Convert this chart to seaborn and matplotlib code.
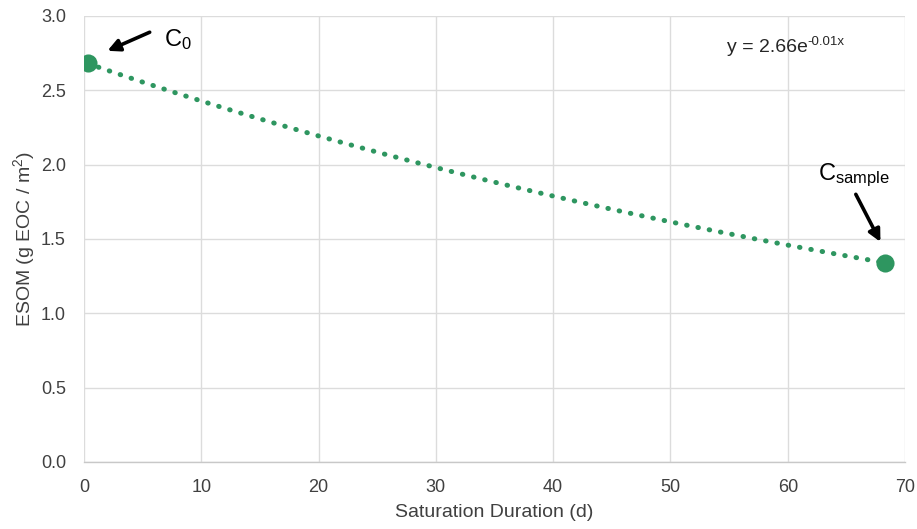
import numpy as np
import pandas as pd
import matplotlib
matplotlib.use("Agg")
import matplotlib.pyplot as plt
import seaborn as sns

# Measured ESOM at start and at sampling
days = [0.3, 68.3]
esom = [2.68, 1.34]
point_labels = ["C$_0$", "C$_{\\mathrm{sample}}$"]
x_ticks = [0, 10, 20, 30, 40, 50, 60, 70]
y_ticks = [0.0, 0.5, 1.0, 1.5, 2.0, 2.5, 3.0]
eq_base = "y = 2.66e"
eq_exp = "-0.01x"

green = "#2e9660"

sns.set_theme(style="whitegrid")
plt.rcParams["font.family"] = ["Liberation Sans", "DejaVu Sans"]
plt.rcParams["mathtext.fontset"] = "custom"
plt.rcParams["mathtext.rm"] = "Liberation Sans"
plt.rcParams["mathtext.it"] = "Liberation Sans"

fig = plt.figure(figsize=(9.17, 5.29), dpi=100)
ax = fig.add_axes([0.0916, 0.1267, 0.8954, 0.8433])

pts = pd.DataFrame({"days": days, "esom": esom})

# Exponential trendline fitted through the measurements
k, ln_a = np.polyfit(pts["days"], np.log(pts["esom"]), 1)
xt = np.linspace(min(days), max(days), 200)
trend = pd.DataFrame({"days": xt, "esom": np.exp(ln_a) * np.exp(k * xt)})

sns.lineplot(data=trend, x="days", y="esom", ax=ax, color=green,
             linewidth=3.6, linestyle=(0, (0.1, 2.2)), zorder=3)
ax.lines[-1].set_dash_capstyle("round")
sns.scatterplot(data=pts, x="days", y="esom", ax=ax, color=green, s=170,
                edgecolor=green, linewidth=0, zorder=4)

ax.set_xlim(0, 70)
ax.set_ylim(0, 3.0)
ax.set_xticks(x_ticks)
ax.set_yticks(y_ticks)
ax.set_yticklabels([f"{v:.1f}" for v in y_ticks])
ax.tick_params(axis="x", labelsize=13, colors="#404040", length=0, pad=12)
ax.tick_params(axis="y", labelsize=13, colors="#404040", length=0, pad=13)
ax.grid(True, color="#dcdcdc", linewidth=1)
for side in ["top", "right", "left"]:
    ax.spines[side].set_visible(False)
ax.spines["bottom"].set_color("#c8c8c8")
ax.spines["bottom"].set_linewidth(1)

ax.set_xlabel("Saturation Duration (d)", fontsize=14, color="#404040", labelpad=6)
ax.set_ylabel("ESOM (g EOC / m$^2$)", fontsize=14, color="#404040", labelpad=3)

arrow = dict(arrowstyle="-|>", color="black", lw=2.6, mutation_scale=18,
             shrinkA=0, shrinkB=0)

# Point annotations with arrows
ax.annotate("", xy=(2.0, 2.765), xytext=(5.6, 2.89), arrowprops=arrow)
ax.text(6.8, 2.84, point_labels[0], fontsize=17, color="black",
        ha="left", va="center")
ax.annotate("", xy=(67.9, 1.48), xytext=(65.8, 1.80), arrowprops=arrow)
ax.text(65.6, 1.925, point_labels[1], fontsize=17, color="black",
        ha="center", va="center")

# Trendline equation
t = ax.text(54.8, 2.785, eq_base, fontsize=14, color="#262626",
            ha="left", va="center")
fig.canvas.draw()
bb = t.get_window_extent()
x_end = ax.transData.inverted().transform((bb.x1, bb.y1))[0]
ax.text(x_end, 2.825, eq_exp, fontsize=9.5, color="#262626",
        ha="left", va="center")

fig.savefig("out.png", dpi=100, facecolor="white")
